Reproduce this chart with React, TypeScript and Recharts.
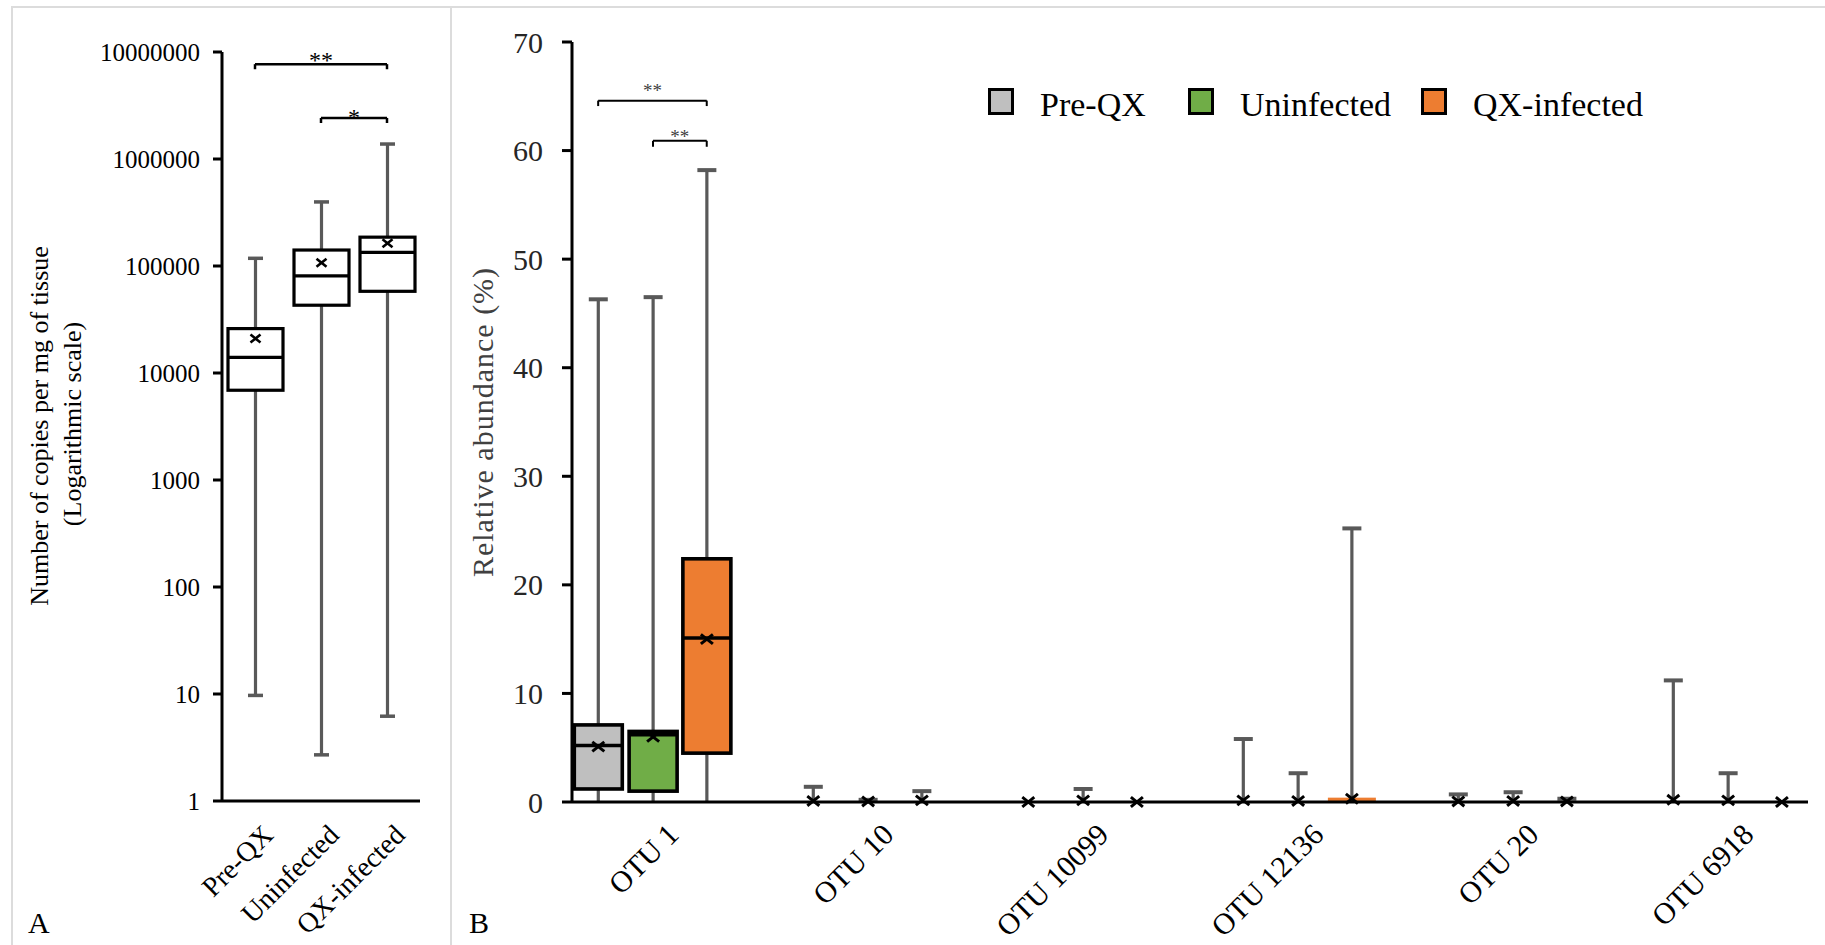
import React from 'react';
import { ComposedChart, Bar, XAxis, YAxis, ReferenceLine } from 'recharts';

const SERIF = "'Liberation Serif', 'Times New Roman', serif";

// ---------- shared ----------
const groups = ['Pre-QX', 'Uninfected', 'QX-infected'];
const groupFills = ['#bfbfbf', '#70ad47', '#ed7d31'];

// ---------- Panel A: copies per mg of tissue (log scale) ----------
const aMin = [9.7, 2.7, 6.2];
const aQ1 = [6900, 43000, 58000];
const aMedian = [14000, 81000, 134000];
const aQ3 = [26000, 141000, 186000];
const aMax = [118000, 397000, 1380000];
const aMean = [21000, 107000, 163000];
const aTicks = [1, 10, 100, 1000, 10000, 100000, 1000000, 10000000];
const aSig = [
  { from: 0, to: 2, level: 7.7e6, tip: 6.9e6, label: '**' },
  { from: 1, to: 2, level: 2.42e6, tip: 2.17e6, label: '*' },
];

// ---------- Panel B: relative abundance (%) ----------
const otus = ['OTU 1', 'OTU 10', 'OTU 10099', 'OTU 12136', 'OTU 20', 'OTU 6918'];
const bTicks = [0, 10, 20, 30, 40, 50, 60, 70];

const preQxMin = [0, 0, 0, 0, 0, 0];
const preQxQ1 = [1.2, 0, 0, 0, 0, 0];
const preQxMedian = [5.2, 0, 0, 0, 0, 0];
const preQxQ3 = [7.1, 0, 0, 0, 0, 0];
const preQxMax = [46.3, 1.4, 0, 5.8, 0.7, 11.2];
const preQxMean = [5.1, 0.1, 0, 0.15, 0.05, 0.2];

const uninfMin = [0, 0, 0, 0, 0, 0];
const uninfQ1 = [1.0, 0, 0, 0, 0, 0];
const uninfMedian = [6.2, 0, 0, 0, 0, 0];
const uninfQ3 = [6.5, 0, 0, 0, 0, 0];
const uninfMax = [46.5, 0.2, 1.2, 2.65, 0.9, 2.65];
const uninfMean = [6.0, 0.05, 0.15, 0.1, 0.1, 0.15];

const qxMin = [0, 0, 0, 0, 0, 0];
const qxQ1 = [4.5, 0, 0, 0, 0, 0];
const qxMedian = [15.1, 0, 0, 0, 0, 0];
const qxQ3 = [22.4, 0, 0, 0.4, 0.05, 0];
const qxMax = [58.2, 1.0, 0, 25.2, 0.3, 0];
const qxMean = [15.0, 0.15, 0, 0.3, 0.05, 0];

const bSig = [
  { cat: 0, from: 0, to: 2, level: 64.6, tip: 64.1, label: '**' },
  { cat: 0, from: 1, to: 2, level: 60.9, tip: 60.35, label: '**' },
];

// ---------- derived tables ----------
const groupOffset = [-0.255, 0, 0.25];

const aData = groups.map((g, i) => ({
  x: i,
  group: i,
  min: aMin[i],
  q1: aQ1[i],
  median: aMedian[i],
  q3: aQ3[i],
  max: aMax[i],
  mean: aMean[i],
}));

const bStats = [
  { min: preQxMin, q1: preQxQ1, median: preQxMedian, q3: preQxQ3, max: preQxMax, mean: preQxMean },
  { min: uninfMin, q1: uninfQ1, median: uninfMedian, q3: uninfQ3, max: uninfMax, mean: uninfMean },
  { min: qxMin, q1: qxQ1, median: qxMedian, q3: qxQ3, max: qxMax, mean: qxMean },
];

const bData = otus.flatMap((o, c) =>
  groups.map((g, gi) => ({
    x: c + groupOffset[gi],
    group: gi,
    min: bStats[gi].min[c],
    q1: bStats[gi].q1[c],
    median: bStats[gi].median[c],
    q3: bStats[gi].q3[c],
    max: bStats[gi].max[c],
    mean: bStats[gi].mean[c],
  }))
);

const WHISKER = '#595959';

type BoxStyle = {
  log: boolean;
  fills: string[];
  capW: number;
  capH: number;
  whisker: number;
  boxStroke: number;
  markHalf: number;
  markStroke: number;
  bottomCap: boolean;
};

const makeBoxShape = (s: BoxStyle) => (props: any) => {
  const { x, y, width, height, payload } = props;
  if (x == null || y == null || !payload) return <g />;
  const f = (v: number) => (s.log ? Math.log10(v) : v);
  const hi = f(payload.max);
  const lo = f(payload.min);
  const span = hi - lo;
  const py = (v: number) => (span > 0 ? y + (height * (hi - f(v))) / span : y);
  const cx = x + width / 2;
  const yMax = py(payload.max);
  const yMin = py(payload.min);
  const yQ3 = py(payload.q3);
  const yQ1 = py(payload.q1);
  const yMed = py(payload.median);
  const yMean = py(payload.mean);
  const parts: any[] = [];
  if (span > 0) {
    parts.push(<line key="w" x1={cx} x2={cx} y1={yMax} y2={yMin} stroke={WHISKER} strokeWidth={s.whisker} />);
    parts.push(
      <line key="ct" x1={cx - s.capW / 2} x2={cx + s.capW / 2} y1={yMax} y2={yMax} stroke={WHISKER} strokeWidth={s.capH} />
    );
    if (s.bottomCap)
      parts.push(
        <line key="cb" x1={cx - s.capW / 2} x2={cx + s.capW / 2} y1={yMin} y2={yMin} stroke={WHISKER} strokeWidth={s.capH} />
      );
  }
  const bh = yQ1 - yQ3;
  if (bh > 0.5) {
    const big = bh > 6;
    parts.push(
      <rect
        key="b"
        x={x}
        y={yQ3}
        width={width}
        height={bh}
        fill={s.fills[payload.group]}
        stroke={big ? '#000' : 'none'}
        strokeWidth={s.boxStroke}
      />
    );
    if (big)
      parts.push(<line key="m" x1={x} x2={x + width} y1={yMed} y2={yMed} stroke="#000" strokeWidth={s.boxStroke} />);
  }
  const h = s.markHalf;
  parts.push(
    <g key="mean" stroke="#000" strokeWidth={s.markStroke}>
      <line x1={cx - h} x2={cx + h} y1={yMean - h * 0.8} y2={yMean + h * 0.8} />
      <line x1={cx - h} x2={cx + h} y1={yMean + h * 0.8} y2={yMean - h * 0.8} />
    </g>
  );
  return <g>{parts}</g>;
};

const boxShapeA = makeBoxShape({
  log: true,
  fills: ['#ffffff', '#ffffff', '#ffffff'],
  capW: 15,
  capH: 3.5,
  whisker: 3.2,
  boxStroke: 3.2,
  markHalf: 5,
  markStroke: 2.6,
  bottomCap: true,
});

const boxShapeB = makeBoxShape({
  log: false,
  fills: groupFills,
  capW: 19,
  capH: 4,
  whisker: 3.2,
  boxStroke: 3.6,
  markHalf: 6,
  markStroke: 3,
  bottomCap: false,
});

// ---------- ticks ----------
const YTickA = (p: any) => (
  <text x={p.x} y={p.y} textAnchor="end" dominantBaseline="central" fontFamily={SERIF} fontSize={25} fill="#000">
    {String(p.payload.value)}
  </text>
);

const XTickA = (p: any) => {
  const ax = p.x + 13;
  const ay = p.y + 29;
  return (
    <text
      x={ax}
      y={ay}
      transform={`rotate(-45 ${ax} ${ay})`}
      textAnchor="end"
      dominantBaseline="central"
      fontFamily={SERIF}
      fontSize={28}
      fill="#000"
    >
      {groups[Math.round(p.payload.value)]}
    </text>
  );
};

const YTickB = (p: any) => (
  <text x={p.x} y={p.y} textAnchor="end" dominantBaseline="central" fontFamily={SERIF} fontSize={30} fill="#262626">
    {String(p.payload.value)}
  </text>
);

const XTickB = (p: any) => {
  const ax = p.x + 20;
  const ay = p.y + 27;
  return (
    <text
      x={ax}
      y={ay}
      transform={`rotate(-45 ${ax} ${ay})`}
      textAnchor="end"
      dominantBaseline="central"
      fontFamily={SERIF}
      fontSize={30}
      fill="#000"
    >
      {otus[Math.round(p.payload.value)]}
    </text>
  );
};

const legendRectX = [988, 1188, 1421];

export default function App() {
  return (
    <div style={{ position: 'absolute', left: 0, top: 0, width: 1825, height: 945, background: '#fff', overflow: 'hidden' }}>
      {/* frame */}
      <div style={{ position: 'absolute', left: 11, top: 6, width: 1814, height: 2, background: '#dcdcdc' }} />
      <div style={{ position: 'absolute', left: 11, top: 6, width: 2, height: 939, background: '#dcdcdc' }} />
      <div style={{ position: 'absolute', left: 450, top: 6, width: 2, height: 939, background: '#dcdcdc' }} />

      {/* Panel A */}
      <div style={{ position: 'absolute', left: 0, top: 0 }}>
        <ComposedChart width={452} height={945} data={aData} margin={{ top: 52, right: 32, bottom: 44, left: 122 }}>
          <XAxis
            type="number"
            dataKey="x"
            domain={[-0.5, 2.5]}
            ticks={[0, 1, 2]}
            interval={0}
            height={100}
            tickLine={false}
            tickSize={0}
            tickMargin={0}
            axisLine={{ stroke: '#000', strokeWidth: 3 }}
            tick={XTickA}
          />
          <YAxis
            type="number"
            scale="log"
            domain={[1, 10000000]}
            ticks={aTicks}
            interval={0}
            width={100}
            tickSize={9}
            tickMargin={13}
            axisLine={{ stroke: '#000', strokeWidth: 3 }}
            tickLine={{ stroke: '#000', strokeWidth: 3 }}
            tick={YTickA}
          />
          <Bar dataKey={(d: any) => [d.min, d.max]} barSize={55} shape={boxShapeA} isAnimationActive={false} />
          {aSig.map((s, i) => (
            <ReferenceLine
              key={`a${i}`}
              segment={[
                { x: s.from, y: s.level },
                { x: s.to, y: s.level },
              ]}
              stroke="#000"
              strokeWidth={2.5}
              label={{ value: s.label, position: 'top', offset: s.label === '*' ? -7 : -4, fill: '#000', fontSize: 24, fontFamily: SERIF }}
            />
          ))}
          {aSig.map((s, i) => (
            <ReferenceLine
              key={`al${i}`}
              segment={[
                { x: s.from, y: s.level },
                { x: s.from, y: s.tip },
              ]}
              stroke="#000"
              strokeWidth={2.5}
            />
          ))}
          {aSig.map((s, i) => (
            <ReferenceLine
              key={`ar${i}`}
              segment={[
                { x: s.to, y: s.level },
                { x: s.to, y: s.tip },
              ]}
              stroke="#000"
              strokeWidth={2.5}
            />
          ))}
        </ComposedChart>
      </div>

      {/* Panel B */}
      <div style={{ position: 'absolute', left: 451, top: 0 }}>
        <ComposedChart width={1374} height={945} data={bData} margin={{ top: 42, right: 17, bottom: 43, left: 21 }}>
          <XAxis
            type="number"
            dataKey="x"
            domain={[-0.3767, 5.372]}
            ticks={[0, 1, 2, 3, 4, 5]}
            interval={0}
            height={100}
            tickLine={false}
            tickSize={0}
            tickMargin={0}
            axisLine={{ stroke: '#000', strokeWidth: 3 }}
            tick={XTickB}
          />
          <YAxis
            type="number"
            domain={[0, 70]}
            ticks={bTicks}
            interval={0}
            width={100}
            tickSize={10}
            tickMargin={19}
            axisLine={{ stroke: '#000', strokeWidth: 3 }}
            tickLine={{ stroke: '#000', strokeWidth: 3 }}
            tick={YTickB}
          />
          <Bar dataKey={(d: any) => [d.min, d.max]} barSize={48} shape={boxShapeB} isAnimationActive={false} />
          {bSig.map((s, i) => (
            <ReferenceLine
              key={`b${i}`}
              segment={[
                { x: s.cat + groupOffset[s.from], y: s.level },
                { x: s.cat + groupOffset[s.to], y: s.level },
              ]}
              stroke="#000"
              strokeWidth={2}
              label={{ value: s.label, position: 'top', offset: i === 0 ? 4 : -2, fill: '#404040', fontSize: 19, fontFamily: SERIF }}
            />
          ))}
          {bSig.map((s, i) => (
            <ReferenceLine
              key={`bl${i}`}
              segment={[
                { x: s.cat + groupOffset[s.from], y: s.level },
                { x: s.cat + groupOffset[s.from], y: s.tip },
              ]}
              stroke="#000"
              strokeWidth={2}
            />
          ))}
          {bSig.map((s, i) => (
            <ReferenceLine
              key={`br${i}`}
              segment={[
                { x: s.cat + groupOffset[s.to], y: s.level },
                { x: s.cat + groupOffset[s.to], y: s.tip },
              ]}
              stroke="#000"
              strokeWidth={2}
            />
          ))}
        </ComposedChart>
      </div>

      {/* titles, panel letters, legend */}
      <svg width={1825} height={945} style={{ position: 'absolute', left: 0, top: 0, pointerEvents: 'none' }}>
        <text transform="translate(48 426) rotate(-90)" textAnchor="middle" fontFamily={SERIF} fontSize={26} fill="#000">
          Number of copies per mg of tissue
        </text>
        <text transform="translate(81 424) rotate(-90)" textAnchor="middle" fontFamily={SERIF} fontSize={26} fill="#000">
          (Logarithmic scale)
        </text>
        <text
          transform="translate(493 422) rotate(-90)"
          textAnchor="middle"
          fontFamily={SERIF}
          fontSize={30}
          letterSpacing={1}
          fill="#404040"
        >
          Relative abundance (%)
        </text>
        <text x={28} y={933} fontFamily={SERIF} fontSize={30} fill="#000">
          A
        </text>
        <text x={469} y={933} fontFamily={SERIF} fontSize={30} fill="#000">
          B
        </text>
        {groups.map((g, i) => (
          <g key={g}>
            <rect x={legendRectX[i] + 1.5} y={89.5} width={23} height={24} fill={groupFills[i]} stroke="#000" strokeWidth={3} />
            <text x={legendRectX[i] + 52} y={116} fontFamily={SERIF} fontSize={34} fill="#000">
              {g}
            </text>
          </g>
        ))}
      </svg>
    </div>
  );
}
